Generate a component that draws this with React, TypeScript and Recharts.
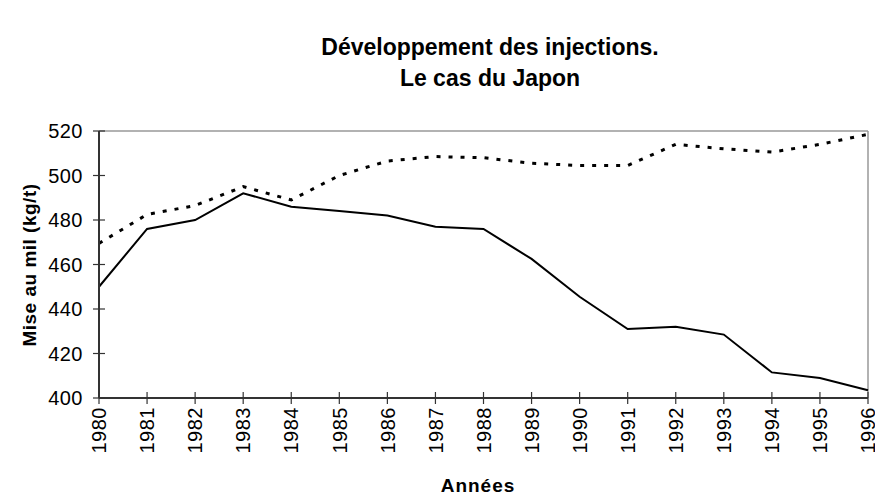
import React from "react";
import { LineChart, Line, XAxis, YAxis, ReferenceLine } from "recharts";

const years = [1980, 1981, 1982, 1983, 1984, 1985, 1986, 1987, 1988, 1989, 1990, 1991, 1992, 1993, 1994, 1995, 1996];
const solidSeries = [450, 476, 480, 492, 486, 484, 482, 477, 476, 462.5, 445.5, 431, 432, 428.5, 411.5, 409, 403.5];
const dottedSeries = [469.5, 482.5, 486.5, 495, 489, 500, 506.5, 508.5, 508, 505.5, 504.5, 504.5, 514, 512, 510.5, 514, 518.5];
const yTicks = [400, 420, 440, 460, 480, 500, 520];

const titleLines = ["Développement des injections.", "Le cas du Japon"];
const xLabel = "Années";
const yLabel = "Mise au mil (kg/t)";

const data = years.map((y, i) => ({ year: y, a: solidSeries[i], b: dottedSeries[i] }));

const FONT = "Arial, 'Liberation Sans', Helvetica, sans-serif";

const XTick = (props: any) => {
  const { x, y, payload } = props;
  return (
    <g>
      <line x1={x} x2={x} y1={y - 6} y2={y + 6} stroke="#333" strokeWidth={1.2} />
      <text
        x={x}
        y={y + 9}
        transform={`rotate(-90, ${x}, ${y + 9})`}
        textAnchor="end"
        dy="0.36em"
        fontSize={20}
        letterSpacing={0.5}
        fontFamily={FONT}
        fill="#000"
      >
        {payload.value}
      </text>
    </g>
  );
};

const YTick = (props: any) => {
  const { x, y, payload } = props;
  return (
    <g>
      <line x1={x - 6} x2={x + 6} y1={y} y2={y} stroke="#333" strokeWidth={1.2} />
      <text x={x - 16} y={y} textAnchor="end" dy="0.36em" fontSize={20} letterSpacing={0.5} fontFamily={FONT} fill="#000">
        {payload.value}
      </text>
    </g>
  );
};

export default function App() {
  return (
    <div style={{ position: "absolute", left: 0, top: 0, width: 875, height: 498, background: "#fff", fontFamily: FONT }}>
      <div
        style={{
          position: "absolute",
          left: 290,
          width: 400,
          top: 32,
          textAlign: "center",
          fontWeight: "bold",
          fontSize: 23,
          lineHeight: "31px",
          color: "#000",
        }}
      >
        {titleLines.map((t) => (
          <div key={t}>{t}</div>
        ))}
      </div>
      <LineChart width={875} height={498} data={data} margin={{ top: 131, right: 7, left: 39, bottom: 0 }}>
        <XAxis
          dataKey="year"
          type="number"
          domain={[1980, 1996]}
          ticks={years}
          interval={0}
          tickLine={false}
          tickSize={0}
          tickMargin={0}
          height={100}
          axisLine={{ stroke: "#333", strokeWidth: 2 }}
          tick={<XTick />}
        />
        <YAxis
          type="number"
          domain={[400, 520]}
          ticks={yTicks}
          interval={0}
          tickLine={false}
          tickSize={0}
          tickMargin={0}
          width={60}
          axisLine={{ stroke: "#333", strokeWidth: 2 }}
          tick={<YTick />}
        />
        <ReferenceLine y={520} stroke="#999" strokeWidth={1.5} ifOverflow="extendDomain" />
        <ReferenceLine x={1996} stroke="#999" strokeWidth={1.5} ifOverflow="extendDomain" />
        <Line
          dataKey="b"
          stroke="#000"
          strokeWidth={3}
          strokeDasharray="4 8"
          dot={false}
          isAnimationActive={false}
          type="linear"
        />
        <Line dataKey="a" stroke="#000" strokeWidth={2} dot={false} isAnimationActive={false} type="linear" />
      </LineChart>
      <div
        style={{
          position: "absolute",
          left: 378,
          width: 200,
          top: 475,
          textAlign: "center",
          fontWeight: "bold",
          fontSize: 19,
          letterSpacing: 1,
          color: "#000",
        }}
      >
        {xLabel}
      </div>
      <div
        style={{
          position: "absolute",
          left: 30 - 110,
          top: 265 - 12,
          width: 220,
          height: 24,
          lineHeight: "24px",
          textAlign: "center",
          fontWeight: "bold",
          fontSize: 19,
          letterSpacing: 0.5,
          color: "#000",
          transform: "rotate(-90deg)",
          transformOrigin: "110px 12px",
        }}
      >
        {yLabel}
      </div>
    </div>
  );
}
